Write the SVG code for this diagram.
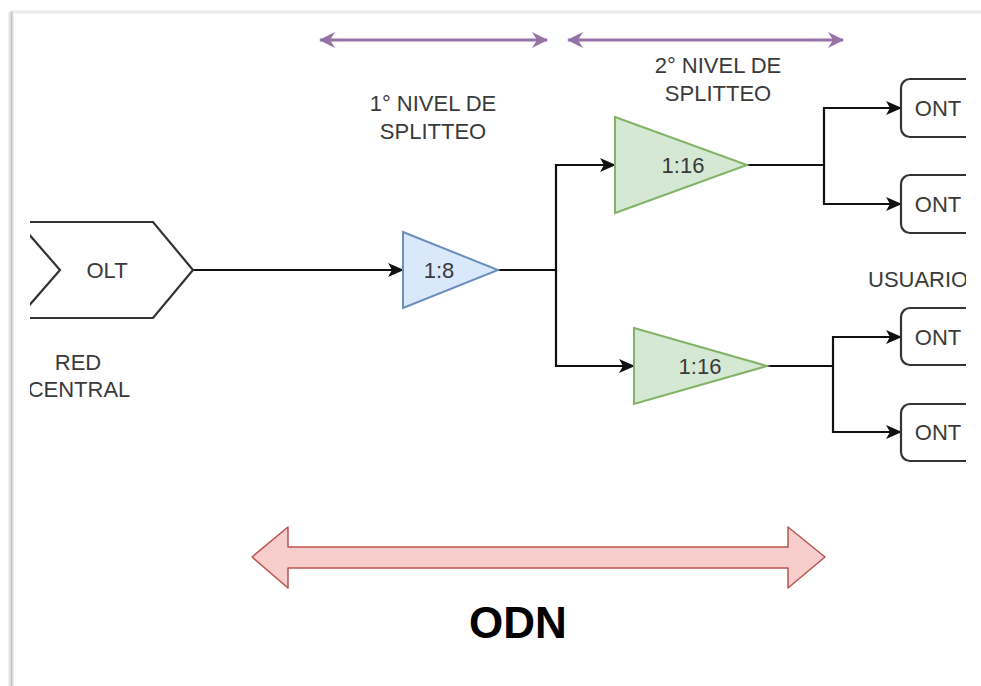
<svg xmlns="http://www.w3.org/2000/svg" width="981" height="686" viewBox="0 0 981 686">
<style>
.t{font-family:"Liberation Sans",Arial,sans-serif;font-size:22px;fill:#3a3a3a;text-anchor:middle}
.e{fill:none;stroke:#111;stroke-width:2.2}
.p{fill:none;stroke:#9673a6;stroke-width:3}
.ont{fill:#fff;stroke:#333;stroke-width:2.2}
</style>
<defs>
<clipPath id="cv"><rect x="30" y="12" width="936" height="674"/></clipPath>
<marker id="a" viewBox="0 0 16 14" refX="15" refY="7" markerWidth="16" markerHeight="14" markerUnits="userSpaceOnUse" orient="auto"><path d="M0,0 L16,7 L0,14 L4,7 Z" fill="#111"/></marker>
<marker id="pa" viewBox="0 0 16 16" refX="15" refY="8" markerWidth="16" markerHeight="16" markerUnits="userSpaceOnUse" orient="auto-start-reverse"><path d="M0,0 L16,8 L0,16 L5,8 Z" fill="#9673a6"/></marker>
</defs>
<rect width="981" height="686" fill="#fff"/>
<g id="frame">
<line x1="11" y1="12" x2="11" y2="686" stroke="#e4e4e4" stroke-width="5"/>
<line x1="11" y1="12" x2="981" y2="12" stroke="#ececec" stroke-width="3"/>
<line x1="11.5" y1="11" x2="11.5" y2="686" stroke="#c4c4c4" stroke-width="1.5"/>
</g>
<g clip-path="url(#cv)">
<g id="connectors">
<line class="e" x1="193" y1="270" x2="403" y2="270" marker-end="url(#a)"/>
<polyline class="e" points="498,270 556,270 556,165 615,165" marker-end="url(#a)"/>
<polyline class="e" points="556,270 556,366 634,366" marker-end="url(#a)"/>
<polyline class="e" points="747,165 824,165 824,108 901,108" marker-end="url(#a)"/>
<polyline class="e" points="824,165 824,204 901,204" marker-end="url(#a)"/>
<polyline class="e" points="767,366 833,366 833,337 901,337" marker-end="url(#a)"/>
<polyline class="e" points="833,366 833,432 901,432" marker-end="url(#a)"/>
<line class="p" x1="320" y1="40" x2="547" y2="40" marker-start="url(#pa)" marker-end="url(#pa)"/>
<line class="p" x1="568" y1="40" x2="843" y2="40" marker-start="url(#pa)" marker-end="url(#pa)"/>
</g>
<g id="olt">
<path d="M20,222 L153,222 L193,270 L153,318 L20,318" fill="#fff" stroke="#333" stroke-width="2.2"/>
<path d="M20,224 L60,270 L20,316" fill="none" stroke="#333" stroke-width="2.2"/>
<text class="t" x="107" y="278">OLT</text>
</g>
<g id="red-central">
<text class="t" x="78" y="370">RED</text>
<text class="t" x="79" y="397">CENTRAL</text>
</g>
<g id="splitter-1-8">
<path d="M403,232 L498,270 L403,308 Z" fill="#dae8fc" stroke="#6c8ebf" stroke-width="2"/>
<text class="t" x="439" y="278">1:8</text>
</g>
<g id="splitter-1-16-top">
<path d="M615,117 L747,165 L615,213 Z" fill="#d5e8d4" stroke="#82b366" stroke-width="2"/>
<text class="t" x="683" y="173">1:16</text>
</g>
<g id="splitter-1-16-bottom">
<path d="M634,328 L767,366 L634,404 Z" fill="#d5e8d4" stroke="#82b366" stroke-width="2"/>
<text class="t" x="700" y="374">1:16</text>
</g>
<g id="ont-1"><rect class="ont" x="901" y="79" width="120" height="58" rx="9"/><text class="t" x="938" y="116">ONT</text></g>
<g id="ont-2"><rect class="ont" x="901" y="175" width="120" height="58" rx="9"/><text class="t" x="938" y="212">ONT</text></g>
<g id="ont-3"><rect class="ont" x="901" y="308" width="120" height="57" rx="9"/><text class="t" x="938" y="345">ONT</text></g>
<g id="ont-4"><rect class="ont" x="901" y="404" width="120" height="57" rx="9"/><text class="t" x="938" y="440">ONT</text></g>
<g id="usuario"><text class="t" x="868" y="287" style="text-anchor:start">USUARIO</text></g>
<g id="nivel-1">
<text class="t" x="433" y="111">1° NIVEL DE</text>
<text class="t" x="433" y="139">SPLITTEO</text>
</g>
<g id="nivel-2">
<text class="t" x="718" y="73">2° NIVEL DE</text>
<text class="t" x="718" y="101">SPLITTEO</text>
</g>
<g id="odn-arrow">
<path d="M252,557 L288,527 L288,547 L788,547 L788,527 L825,557 L788,588 L788,568 L288,568 L288,588 Z" fill="#f8cecc" stroke="#b85450" stroke-width="1.5" stroke-linejoin="round"/>
</g>
<g id="odn">
<text x="518" y="638" style="font-family:'Liberation Sans',Arial,sans-serif;font-size:44px;font-weight:bold;fill:#000;text-anchor:middle">ODN</text>
</g>
</g>
</svg>
